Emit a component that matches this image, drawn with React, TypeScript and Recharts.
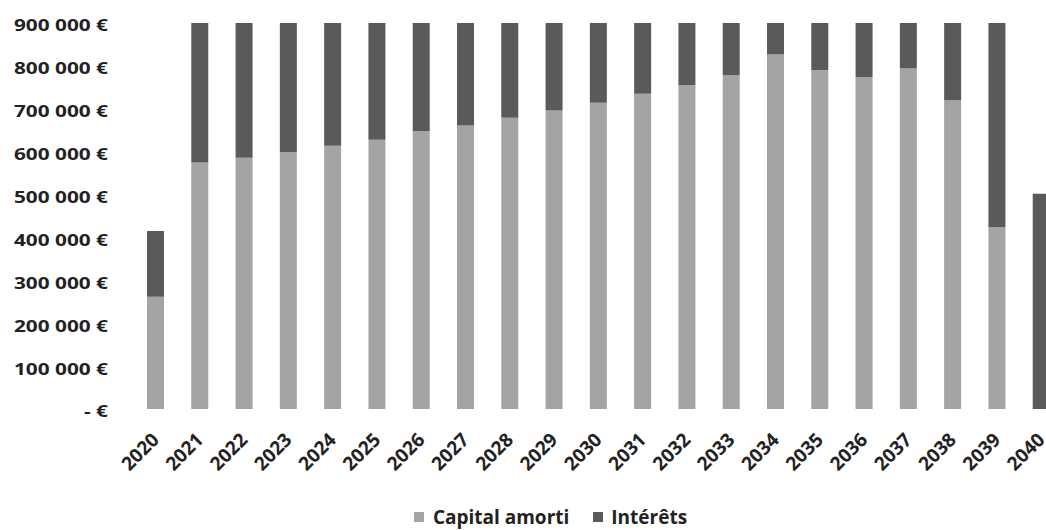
import React from 'react';
import { BarChart, Bar, XAxis, YAxis, Legend } from 'recharts';

// years and amounts (euros)
const years = ['2020', '2021', '2022', '2023', '2024', '2025', '2026', '2027', '2028', '2029', '2030',
  '2031', '2032', '2033', '2034', '2035', '2036', '2037', '2038', '2039', '2040'];
const capital = [262000, 575000, 586000, 599000, 614000, 628000, 648000, 661000, 679000, 696000, 714000,
  735000, 755000, 778000, 827000, 790000, 774000, 794000, 720000, 424000, 0];
const interets = [153000, 325000, 314000, 301000, 286000, 272000, 252000, 239000, 221000, 204000, 186000,
  165000, 145000, 122000, 73000, 110000, 126000, 106000, 180000, 476000, 502000];
const yTicks = [0, 100000, 200000, 300000, 400000, 500000, 600000, 700000, 800000, 900000];

const data = years.map((y, i) => ({ year: y, capital: capital[i], interets: interets[i] }));

const FONT = '"Open Sans", sans-serif';
const TEXT = '#222';
const CAPITAL = '#a4a4a4';
const INTERETS = '#5a5a5a';

const fmt = (v: number) => {
  if (v === 0) return '- €';
  return v.toLocaleString('fr-FR').replace(/[\u202f\u00a0]/g, ' ') + ' €';
};

// y labels look stretched sideways in the scan
const YTick = ({ x, y, payload }: any) => (
  <g transform={`translate(${x},${y + 2}) scale(1.3,1)`}>
    <text textAnchor="end" dominantBaseline="central" fontFamily={FONT} fontWeight={700} fontSize={16} fill={TEXT}>
      {fmt(payload.value)}
    </text>
  </g>
);

const XTick = ({ x, y, payload }: any) => (
  <g transform={`translate(${x + 5},${y + 24})`}>
    <text transform="rotate(-45)" textAnchor="end" fontFamily={FONT} fontWeight={700} fontSize={19} fill={TEXT}>
      {payload.value}
    </text>
  </g>
);

const LegendBox = () => (
  <div style={{ display: 'flex', justifyContent: 'center', alignItems: 'center', fontFamily: FONT, fontWeight: 700, fontSize: 19, color: TEXT, paddingLeft: 30 }}>
    <span style={{ width: 10, height: 10, background: CAPITAL, marginRight: 9 }} />
    <span style={{ marginRight: 24 }}>Capital amorti</span>
    <span style={{ width: 10, height: 10, background: INTERETS, marginRight: 8 }} />
    <span>Intérêts</span>
  </div>
);

const App: React.FC = () => {
  return (
    <div style={{ position: 'absolute', left: 0, top: 0, width: 1046, height: 530, overflow: 'hidden', background: '#fff' }}>
      <BarChart width={1073} height={530} data={data} margin={{ top: 23, right: 10, bottom: 0, left: 8 }}>
        <XAxis dataKey="year" axisLine={false} tickLine={false} interval={0} height={95} tick={<XTick />} />
        <YAxis
          domain={[0, 900000]}
          ticks={yTicks}
          width={125}
          axisLine={false}
          tickLine={false}
          tickMargin={19}
          tick={<YTick />}
        />
        <Legend verticalAlign="bottom" content={<LegendBox />} wrapperStyle={{ bottom: 0 }} />
        <Bar dataKey="capital" name="Capital amorti" stackId="a" fill={CAPITAL} barSize={17} isAnimationActive={false} />
        <Bar dataKey="interets" name="Intérêts" stackId="a" fill={INTERETS} barSize={17} isAnimationActive={false} />
      </BarChart>
    </div>
  );
};

export default App;
